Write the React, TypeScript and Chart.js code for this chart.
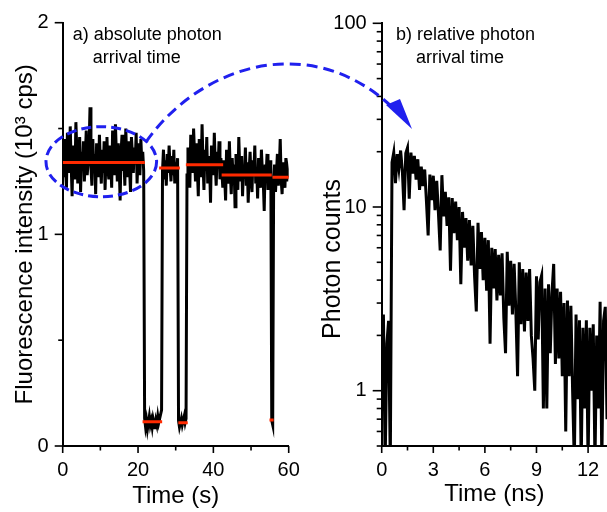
import React, { useEffect, useRef } from 'react';
import { Chart, registerables } from 'chart.js';

Chart.register(...registerables);

// ---------- data ----------
// (a) fluorescence intensity trace, 10^3 counts per second, one bin every 0.25 s (0 … 60 s)
const TRACE_BIN_S = 0.25;
const intensity: number[] = [
  // on 0 – 21.5 s
  1.38, 1.27, 1.45, 1.31, 1.22, 1.48, 1.36, 1.29, 1.51, 1.33,
  1.18, 1.42, 1.37, 1.26, 1.53, 1.40, 1.24, 1.35, 1.46, 1.20,
  1.39, 1.30, 1.44, 1.25, 1.36, 1.49, 1.28, 1.34, 1.41, 1.60,
  1.32, 1.23, 1.45, 1.30, 1.38, 1.19, 1.43, 1.35, 1.27, 1.47,
  1.33, 1.24, 1.40, 1.29, 1.44, 1.21, 1.37, 1.46, 1.31, 1.26,
  1.42, 1.36, 1.22, 1.49, 1.34, 1.28, 1.52, 1.38, 1.25, 1.43,
  1.32, 1.16, 1.39, 1.47, 1.30, 1.36, 1.23, 1.50, 1.35, 1.27,
  1.44, 1.31, 1.20, 1.46, 1.38, 1.29, 1.41, 1.33, 1.48, 1.24,
  1.37, 1.43, 1.28, 1.45, 1.34, 1.39, 1.30,
  // off 21.75 – 26.25 s
  0.13, 0.09, 0.12, 0.08, 0.11, 0.14, 0.10, 0.12, 0.09, 0.13,
  0.11, 0.08, 0.12, 0.10, 0.14, 0.11, 0.13, 0.15, 0.17,
  // on 26.5 – 30.5 s
  1.30, 1.40, 1.26, 1.35, 1.23, 1.38, 1.29, 1.42, 1.32, 1.25,
  1.37, 1.28, 1.40, 1.24, 1.34, 1.30, 1.36,
  // off 30.75 – 32.75 s
  0.12, 0.09, 0.11, 0.13, 0.10, 0.12, 0.14, 0.11, 0.13,
  // on 33 – 42.25 s
  1.28, 1.41, 1.33, 1.22, 1.47, 1.36, 1.29, 1.50, 1.38, 1.25,
  1.43, 1.31, 1.18, 1.45, 1.35, 1.27, 1.52, 1.34, 1.21, 1.40,
  1.30, 1.46, 1.24, 1.37, 1.32, 1.15, 1.42, 1.35, 1.28, 1.48,
  1.33, 1.23, 1.39, 1.31, 1.44, 1.26, 1.36, 1.30,
  // on 42.5 – 55.25 s
  1.22, 1.35, 1.27, 1.16, 1.40, 1.30, 1.24, 1.44, 1.29, 1.19,
  1.36, 1.26, 1.33, 1.13, 1.38, 1.28, 1.21, 1.46, 1.31, 1.25,
  1.37, 1.18, 1.32, 1.27, 1.41, 1.23, 1.34, 1.15, 1.30, 1.39,
  1.26, 1.20, 1.35, 1.29, 1.42, 1.24, 1.31, 1.17, 1.36, 1.28,
  1.22, 1.40, 1.30, 1.25, 1.11, 1.33, 1.27, 1.38, 1.21, 1.32,
  1.26, 1.35,
  // off 55.5 – 55.75 s
  0.12, 0.10,
  // on 56 – 60 s
  1.24, 1.33, 1.20, 1.29, 1.38, 1.23, 1.31, 1.45, 1.26, 1.19,
  1.34, 1.28, 1.22, 1.36, 1.25, 1.30, 1.27,
];

// fitted intensity levels (red lines)
const levelStart = [0, 21.2, 25.6, 30.7, 32.7, 42.2, 54.9, 55.7];
const levelEnd = [21.8, 26.4, 31.1, 33.2, 42.6, 55.5, 56.0, 60.2];
const levelValue = [1.34, 0.115, 1.313, 0.11, 1.329, 1.28, 0.123, 1.27];

// (b) photon arrival-time histogram, one channel every 0.1 ns (0 … 13.1 ns)
const DECAY_BIN_NS = 0.1;
const photonCounts: number[] = [
  1.6, 2.6, 0, 1.8, 2.4, 0,
  17.5, 19.8, 13.5, 19.4, 16.2, 20.3, 15.8, 9.6, 19.6, 21.0,
  11.1, 19.8, 15.2, 19.0, 14.1, 18.2, 12.4, 16.6, 13.0, 16.0,
  10.8, 7.0, 15.0, 10.9, 14.8, 9.6, 13.9, 9.2, 5.8, 14.9,
  8.9, 12.1, 7.9, 11.3, 4.5, 11.2, 7.2, 10.7, 6.6, 10.0,
  3.8, 9.4, 6.0, 8.7, 5.1, 8.5, 4.8, 7.9, 4.2, 2.7,
  8.2, 4.6, 7.3, 4.0, 6.8, 3.5, 6.6, 1.8, 6.0, 3.6,
  5.9, 3.1, 5.5, 3.3, 5.6, 2.5, 1.6, 5.7, 2.9, 5.1,
  2.6, 4.9, 2.7, 1.2, 5.0, 2.3, 4.6, 2.1, 4.4, 2.4,
  4.6, 2.0, 1.5, 1.0, 4.2, 1.9, 3.9, 4.25, 0.8, 3.6,
  0.8, 3.8, 1.6, 3.4, 4.9, 1.4, 3.6, 1.5, 3.46, 1.2,
  3.0, 0.6, 3.1, 1.2, 2.9, 1.0, 0, 2.6, 0.9, 2.42,
  0, 2.2, 0.8, 2.42, 0, 2.2, 1.0, 2.3, 0, 2.0,
  0.8, 3.05, 0, 2.4, 2.86, 0.7,
];

// axis ticks
const leftXMajor = [0, 20, 40, 60];
const leftXMinor = [10, 30, 50];
const leftYMajor = [0, 1, 2];
const leftYMinor = [0.5, 1.5];
const rightXMajor = [0, 3, 6, 9, 12];
const rightXMinor = [1.5, 4.5, 7.5, 10.5];
const rightYMajor = [1, 10, 100];
const rightYMinor = [0.5, 0.6, 0.7, 0.8, 0.9, 2, 3, 4, 5, 6, 7, 8, 9, 20, 30, 40, 50, 60, 70, 80, 90];

// ---------- styling ----------
const FONT = '"Liberation Sans", Arial, Helvetica, sans-serif';
const BLUE = '#2020ee';
const RED = '#ff2a00';
const LOG_MIN = 0.5;
// empty channels (0 counts) sit below the log axis: drawn at a level under its minimum and clipped
const LOG_ZERO_DRAW = 0.4;

type TickSpec = {
  xMajor: number[]; xMinor: number[]; yMajor: number[]; yMinor: number[];
  xLen: [number, number]; yLen: [number, number];
};

const makeTickPlugin = (spec: TickSpec) => ({
  id: 'tickMarks',
  afterDraw(chart: any) {
    const { ctx, chartArea: a, scales } = chart;
    const xs = scales.x;
    const ys = scales.y;
    ctx.save();
    ctx.strokeStyle = '#000';
    ctx.lineWidth = 1.6;
    const vx = (v: number, len: number) => {
      const p = xs.getPixelForValue(v);
      ctx.beginPath(); ctx.moveTo(p, a.bottom); ctx.lineTo(p, a.bottom + len); ctx.stroke();
    };
    const hy = (v: number, len: number) => {
      const p = ys.getPixelForValue(v);
      ctx.beginPath(); ctx.moveTo(a.left, p); ctx.lineTo(a.left - len, p); ctx.stroke();
    };
    spec.xMajor.forEach((v) => vx(v, spec.xLen[0]));
    spec.xMinor.forEach((v) => vx(v, spec.xLen[1]));
    spec.yMajor.forEach((v) => hy(v, spec.yLen[0]));
    spec.yMinor.forEach((v) => hy(v, spec.yLen[1]));
    ctx.restore();
  },
});

type TextItem = { text: string; dx: number; dy: number; size: number; rotate?: boolean };
const makeTextPlugin = (items: TextItem[]) => ({
  id: 'panelText',
  afterDraw(chart: any) {
    const { ctx, chartArea: a } = chart;
    ctx.save();
    ctx.fillStyle = '#000';
    items.forEach((it) => {
      ctx.font = `${it.size}px ${FONT}`;
      if (it.rotate) {
        ctx.save();
        ctx.textAlign = 'center';
        ctx.textBaseline = 'alphabetic';
        ctx.translate(it.dx, it.dy);
        ctx.rotate(-Math.PI / 2);
        ctx.fillText(it.text, 0, 0);
        ctx.restore();
      } else {
        ctx.textAlign = 'left';
        ctx.textBaseline = 'alphabetic';
        ctx.fillText(it.text, a.left + it.dx, a.top + it.dy);
      }
    });
    ctx.restore();
  },
});

const tickFont = { family: FONT, size: 20 };
const titleFont = { family: FONT, size: 24 };

export default function App() {
  const leftRef = useRef<HTMLCanvasElement | null>(null);
  const rightRef = useRef<HTMLCanvasElement | null>(null);

  useEffect(() => {
    const tracePoints = intensity.map((v, i) => ({ x: i * TRACE_BIN_S, y: v }));
    const levelSets = levelValue.map((v, i) => ({
      data: [{ x: levelStart[i], y: v }, { x: levelEnd[i], y: v }],
      borderColor: RED,
      borderWidth: 3,
      pointRadius: 0,
      order: 1,
    }));

    const left = new Chart(leftRef.current as HTMLCanvasElement, {
      type: 'line',
      data: {
        datasets: [
          { data: tracePoints, borderColor: '#000', borderWidth: 3, pointRadius: 0, order: 2 } as any,
          ...levelSets,
        ],
      },
      options: {
        animation: false,
        responsive: false,
        events: [],
        layout: { padding: { top: 22.7, right: 16.3, bottom: 0, left: 0 } },
        elements: { line: { tension: 0 }, point: { radius: 0 } },
        plugins: { legend: { display: false }, tooltip: { enabled: false } },
        scales: {
          x: {
            type: 'linear', min: 0, max: 60,
            afterBuildTicks: (s: any) => { s.ticks = leftXMajor.map((v) => ({ value: v })); },
            ticks: { font: tickFont, color: '#000', padding: 5, maxRotation: 0, autoSkip: false, callback: (v: any) => String(v) },
            grid: { display: false, drawTicks: true, tickLength: 7 },
            border: { display: true, color: '#000', width: 2 },
            title: { display: true, text: 'Time (s)', font: titleFont, color: '#000', padding: { top: 0, bottom: 1 } },
            afterFit: (s: any) => { s.height = 66; },
          },
          y: {
            type: 'linear', min: 0, max: 2,
            afterBuildTicks: (s: any) => { s.ticks = leftYMajor.map((v) => ({ value: v })); },
            ticks: { font: tickFont, color: '#000', padding: 6, callback: (v: any) => String(v) },
            grid: { display: false, drawTicks: true, tickLength: 8 },
            border: { display: true, color: '#000', width: 2 },
            title: { display: true, text: 'Fluorescence intensity (10³ cps)', font: titleFont, color: '#000', padding: { top: 10.6, bottom: 0 } },
            afterFit: (s: any) => { s.width = 62.7; },
          },
        },
      } as any,
      plugins: [
        makeTickPlugin({ xMajor: leftXMajor, xMinor: leftXMinor, yMajor: leftYMajor, yMinor: leftYMinor, xLen: [7, 4.5], yLen: [8, 4.5] }),
        makeTextPlugin([
          { text: 'a) absolute photon', dx: 10, dy: 17.5, size: 18 },
          { text: 'arrival time', dx: 30, dy: 40, size: 18 },
        ]),
      ],
    });

    const decayPoints = photonCounts.map((v, i) => ({
      x: Math.round(i * DECAY_BIN_NS * 10) / 10,
      y: v > 0 ? v : LOG_ZERO_DRAW,
    }));

    const right = new Chart(rightRef.current as HTMLCanvasElement, {
      type: 'line',
      data: {
        datasets: [
          { data: decayPoints, borderColor: '#000', borderWidth: 3, pointRadius: 0, clip: { left: 0, top: 0, right: 0, bottom: 0 } } as any,
        ],
      },
      options: {
        animation: false,
        responsive: false,
        events: [],
        layout: { padding: { top: 23.3, right: 0, bottom: 0, left: 0 } },
        elements: { line: { tension: 0 }, point: { radius: 0 } },
        plugins: { legend: { display: false }, tooltip: { enabled: false } },
        scales: {
          x: {
            type: 'linear', min: 0, max: 13.1,
            afterBuildTicks: (s: any) => { s.ticks = rightXMajor.map((v) => ({ value: v })); },
            ticks: { font: tickFont, color: '#000', padding: 5, maxRotation: 0, autoSkip: false, callback: (v: any) => String(v) },
            grid: { display: false, drawTicks: true, tickLength: 7 },
            border: { display: true, color: '#000', width: 2 },
            title: { display: true, text: 'Time (ns)', font: titleFont, color: '#000', padding: { top: 0, bottom: 3 } },
            afterFit: (s: any) => { s.height = 66; },
          },
          y: {
            type: 'logarithmic', min: LOG_MIN, max: 100,
            afterBuildTicks: (s: any) => { s.ticks = rightYMajor.map((v) => ({ value: v })); },
            ticks: { font: tickFont, color: '#000', padding: 6, autoSkip: false, callback: (v: any) => String(v) },
            grid: { display: false, drawTicks: true, tickLength: 9 },
            border: { display: true, color: '#000', width: 2 },
            title: { display: false },
            afterFit: (s: any) => { s.width = 76.7; },
          },
        },
      } as any,
      plugins: [
        makeTickPlugin({ xMajor: rightXMajor, xMinor: rightXMinor, yMajor: rightYMajor, yMinor: rightYMinor, xLen: [7, 4.5], yLen: [9, 5] }),
        makeTextPlugin([
          { text: 'b) relative photon', dx: 14.3, dy: 17, size: 18 },
          { text: 'arrival time', dx: 34.3, dy: 40, size: 18 },
          { text: 'Photon counts', dx: 35, dy: 259, size: 25, rotate: true },
        ]),
      ],
    });

    return () => {
      left.destroy();
      right.destroy();
    };
  }, []);

  return (
    <div style={{ position: 'fixed', left: 0, top: 0, width: 607, height: 512, background: '#fff', overflow: 'hidden' }}>
      <canvas ref={leftRef} width={305} height={512} style={{ position: 'absolute', left: 0, top: 0 }} />
      <canvas ref={rightRef} width={302} height={512} style={{ position: 'absolute', left: 305, top: 0 }} />
      <svg width={607} height={512} style={{ position: 'absolute', left: 0, top: 0, pointerEvents: 'none' }}>
        <ellipse cx={101.3} cy={161.7} rx={55.3} ry={35} fill="none" stroke={BLUE} strokeWidth={3} strokeDasharray="10 5" />
        <path d="M146 142 C200 65 310 30 392 107" fill="none" stroke={BLUE} strokeWidth={3} strokeDasharray="11 6" />
        <polygon points="386,105 400,99 412,129" fill={BLUE} />
      </svg>
    </div>
  );
}
